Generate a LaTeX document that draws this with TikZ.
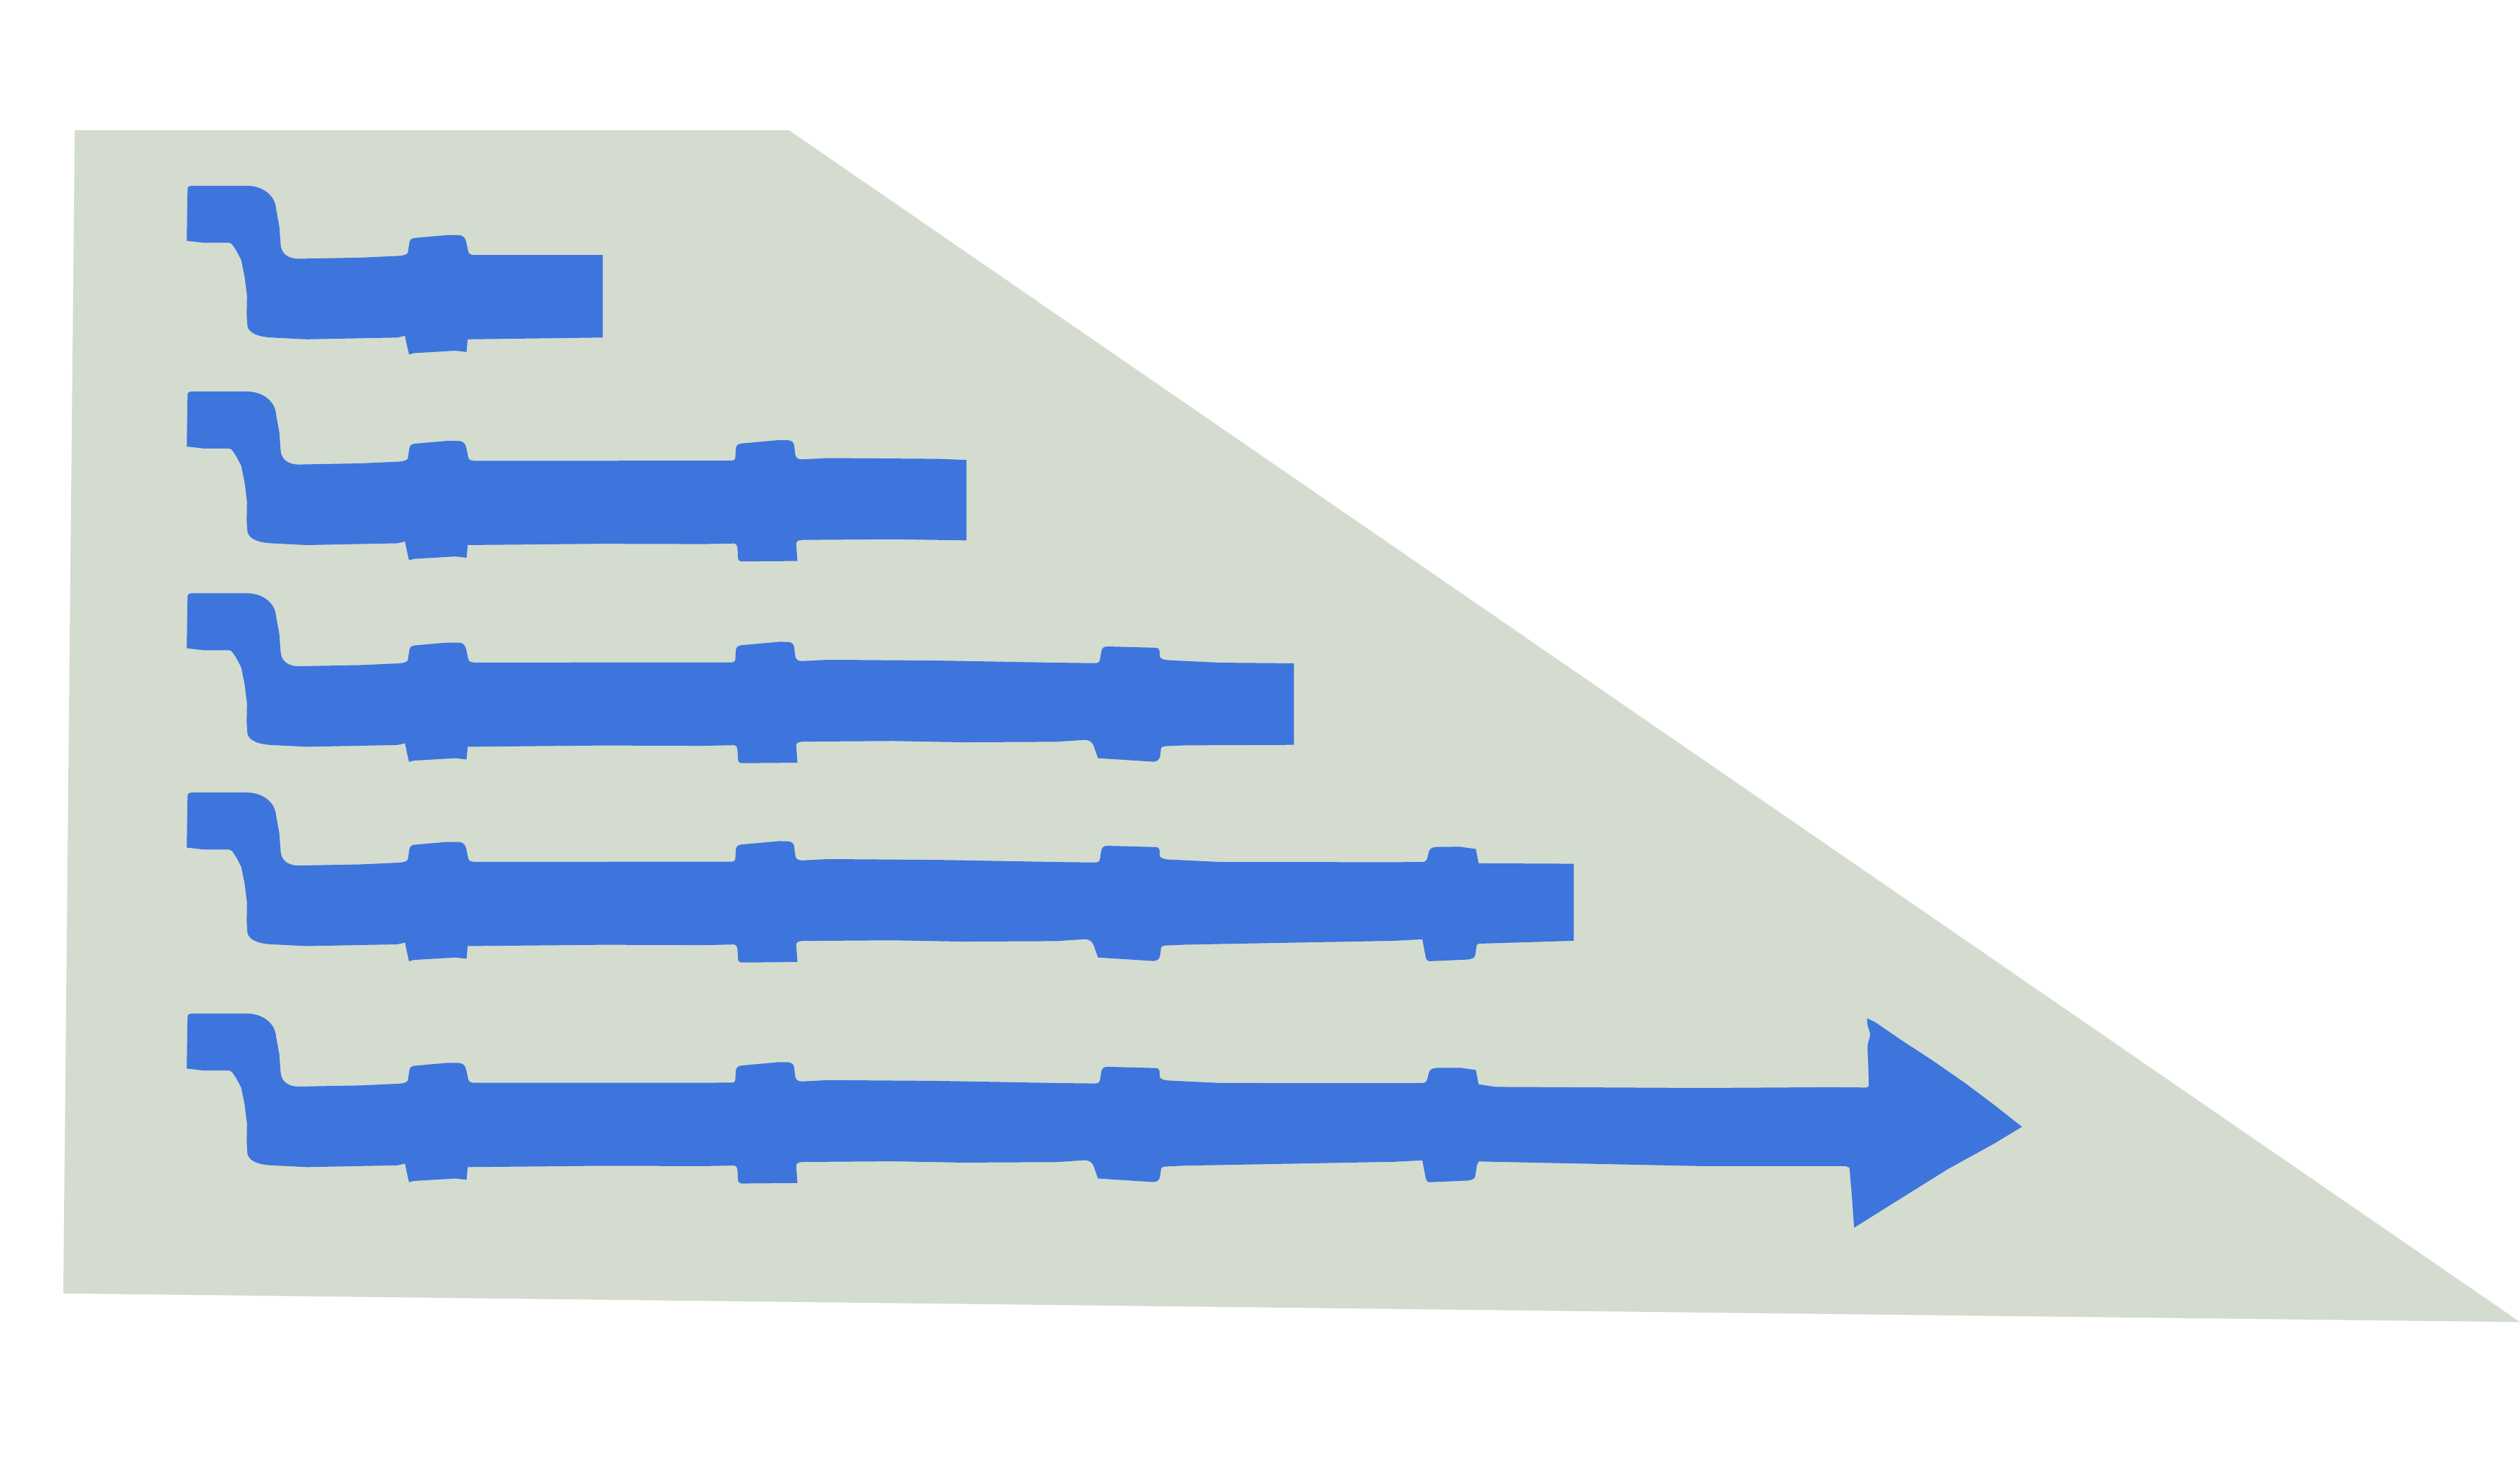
\documentclass[tikz,border=0pt]{standalone}
\definecolor{panelgreen}{RGB}{211,220,207}
\definecolor{arrowblue}{RGB}{61,117,221}
\tikzset{
  panel/.style={fill=panelgreen, draw=none},
  bluearrow/.style={fill=arrowblue, draw=none},
}
% top edge: tab and first collar
\newcommand\arTopA{(116.2,149.8) -- (116.7,117.2) .. controls (116.8,116.2) and (117.6,115.7) .. (119,115.6)
 -- (154.8,115.6) .. controls (161,116) and (167,118.5) .. (170.3,124.5)
 .. controls (171.2,126.5) and (171.6,128) .. (171.8,130)
 -- (173.8,141) -- (174.6,152)
 .. controls (175,157) and (178,160.8) .. (185.6,161)
 -- (224.2,160.3) -- (248.6,159.2)
 .. controls (252,158.8) and (253.6,158.2) .. (253.8,157)
 -- (254.8,150.6) .. controls (255.2,148.8) and (256.4,148.2) .. (258.5,148)
 -- (278.2,146.3) -- (285.5,146.3)
 .. controls (288.3,146.5) and (289.6,148) .. (290.2,151)
 -- (291.3,156.3) .. controls (291.6,158.2) and (293,158.7) .. (296.2,158.7)}
% second collar, top
\newcommand\arTopB{-- (455.5,158.6) .. controls (457.2,158.4) and (457.6,157.5) .. (457.6,156)
 -- (457.8,151.5) .. controls (458,149.2) and (459,148.2) .. (461.5,147.9)
 -- (484.9,145.8) -- (490.5,145.9)
 .. controls (493,146.2) and (494,147.5) .. (494.2,149.5)
 -- (494.7,154) .. controls (495,156.5) and (496,157.8) .. (499,157.8)
 -- (515.5,157) -- (584.2,157.5)}
% third collar, top
\newcommand\arTopC{-- (657.2,158.8) -- (681.5,159.1) .. controls (683.5,159) and (684.3,158.3) .. (684.5,156.5)
 -- (685.2,152) .. controls (685.6,149.8) and (686.5,148.8) .. (689,148.7)
 -- (719,149.5) .. controls (720.8,149.7) and (721.4,150.3) .. (721.5,151.5)
 -- (721.7,155.4) .. controls (723,156.8) and (725,157.2) .. (728,157.3)
 -- (759.4,158.8)}
% fourth collar, top
\newcommand\arTopD{-- (867.5,158.9) -- (885.5,158.8) .. controls (887,158.5) and (887.8,157.8) .. (888.1,156.5)
 -- (889.2,152) .. controls (890,150.2) and (891.5,149.5) .. (894.5,149.4)
 -- (908.4,149.3) -- (918.3,150.7) -- (920,159.6)}
% arrow head
\newcommand\arHead{-- (930.3,161.2) -- (1060,161.9) -- (1139.1,161.4) -- (1161,161.6)
 .. controls (1162.3,161.5) and (1162.8,161) .. (1162.8,160.4)
 -- (1162.5,148) -- (1162,137.8) .. controls (1162,133) and (1163.6,131) .. (1163.6,129)
 .. controls (1163.6,126) and (1162,124) .. (1162,122.5) -- (1161.7,118.5)
 -- (1166.9,121) -- (1182.9,132) -- (1201.9,144.4) -- (1223,159) -- (1241.3,172.8) -- (1258.1,186)
 -- (1241.3,196.2) -- (1212.1,212.3) -- (1182.9,230.5) -- (1153.7,248.8)
 -- (1152.2,228.3) -- (1150.8,211.5) -- (1148.6,210.5) -- (1060.3,210.5) -- (920,207.6)}
% fourth collar, bottom
\newcommand\arBotD{-- (918.9,210.3) -- (917.9,216.9) .. controls (917.5,218.5) and (915.5,219.4) .. (912.7,219.5)
 -- (889.4,220.5) .. controls (888,220.3) and (887.4,219.5) .. (887.2,218.3)
 -- (885,206.9) -- (867.5,207.8)}
% third collar, bottom
\newcommand\arBotC{-- (737.5,210.2) -- (728.7,210.6) .. controls (724,210.6) and (722.4,211) .. (722.4,212.4)
 -- (721.9,216.7) .. controls (721.6,219) and (720,220.3) .. (717.8,220.4)
 -- (683.2,218.2) -- (680.5,210.5) .. controls (679.8,208.5) and (678,207) .. (675.4,206.8)
 -- (657.2,208) -- (598.8,208.3)}
% second collar, bottom
\newcommand\arBotB{-- (555,207.5) -- (499.5,207.9) .. controls (496.5,208) and (495.4,208.8) .. (495.4,210.5)
 -- (496.2,221) -- (461.5,221.3) .. controls (460,221) and (459.3,220.5) .. (459.2,219)
 -- (459,214.5) .. controls (458.8,211.5) and (458.5,210.3) .. (456.5,210.1)
 -- (438.1,210.5) -- (375,210.3)}
% first collar and tab, bottom
\newcommand\arBotA{-- (291,211.1) -- (290.3,219) -- (283.3,218.2) -- (257.6,219.7) -- (254.5,220.5)
 -- (253,213.8) -- (252,208.9) -- (247.3,210) -- (190.8,211.1) -- (168.9,210)
 .. controls (160,209.5) and (155,207) .. (154,203)
 -- (153.5,195.9) -- (153.7,184) -- (152.2,172.1) -- (150.1,161.7)
 -- (147,155.8) -- (144.5,152.1) .. controls (143.7,151.3) and (143,151) .. (141.9,151)
 -- (126.5,151) -- cycle}
\begin{document}
\begin{tikzpicture}[x=0.01cm,y=-0.01cm]
\useasboundingbox (0,0) rectangle (1568,906.4);
\fill[white] (0,0) rectangle (1568,906.4);
% background panel
\fill[panel] (46.5,81) -- (490.8,81) -- (1568,822.5) -- (39.4,804.7) -- cycle;
% arrow 1
\fill[bluearrow] \arTopA -- (375.1,158.7) -- (375.1,210) \arBotA;
% arrow 2
\begin{scope}[shift={(0,128)}]
\fill[bluearrow] \arTopA \arTopB -- (601.4,158.2) -- (601.4,208.2) \arBotB \arBotA;
\end{scope}
% arrow 3
\begin{scope}[shift={(0,253.5)}]
\fill[bluearrow] \arTopA \arTopB \arTopC -- (805.1,159.2) -- (805.1,209.9) \arBotC \arBotB \arBotA;
\end{scope}
% arrow 4
\begin{scope}[shift={(0,377.5)}]
\fill[bluearrow] \arTopA \arTopB \arTopC \arTopD -- (979.2,159.9) -- (979.2,207.8) -- (920,209.6) \arBotD \arBotC \arBotB \arBotA;
\end{scope}
% arrow 5
\begin{scope}[shift={(0,515)}]
\fill[bluearrow] \arTopA \arTopB \arTopC \arTopD \arHead \arBotD \arBotC \arBotB \arBotA;
\end{scope}
\end{tikzpicture}
\end{document}
